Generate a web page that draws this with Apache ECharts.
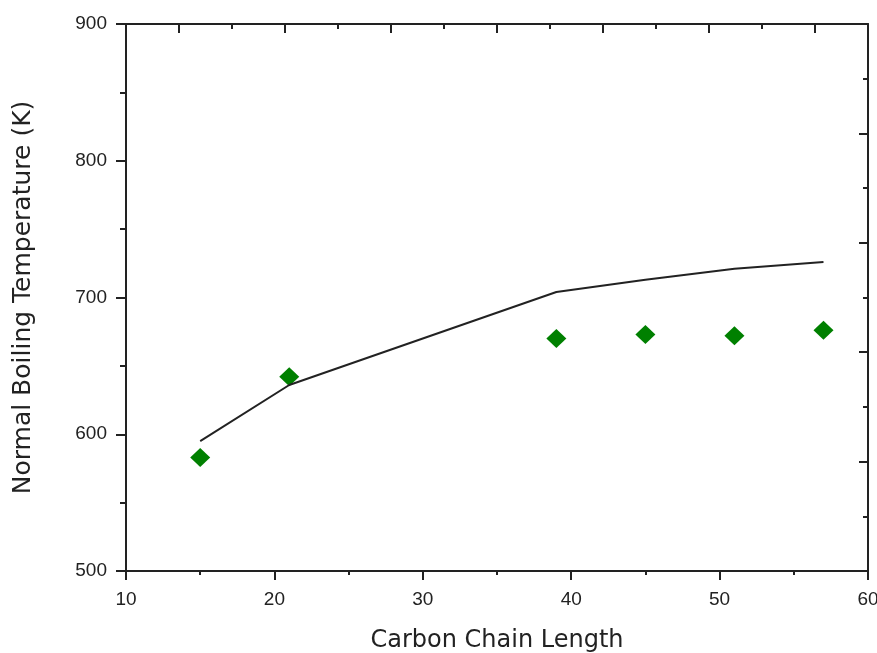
<!DOCTYPE html>
<html>
<head>
<meta charset="utf-8">
<script src="https://cdn.jsdelivr.net/npm/echarts@6/dist/echarts.min.js"></script>
<style>
  html, body { margin: 0; padding: 0; background: #fff; }
  #chart { width: 877px; height: 653px; }
</style>
</head>
<body>
<div id="chart"></div>
<script>
// Measured boiling points (green diamonds)
const measuredChain = [15, 21, 39, 45, 51, 57];
const measuredTemp = [583, 642, 670, 673, 672, 676];

// Model prediction (solid line)
const modelChain = [15, 21, 39, 45, 51, 57];
const modelTemp = [595, 636, 704, 713, 721, 726];

// Axis ranges and tick values
const xTicks = [10, 20, 30, 40, 50, 60];
const yTicks = [500, 600, 700, 800, 900];
const topMajorTicks = [1, 3, 5, 7, 9, 11, 13];

const axisColor = '#222';
const labelFont = { fontFamily: 'Liberation Sans, Arial, sans-serif', fontSize: 19, color: '#222' };

const chart = echarts.init(document.getElementById('chart'));
chart.setOption({
  animation: false,
  backgroundColor: '#fff',
  grid: { left: 126, top: 24, width: 742, height: 547, containLabel: false, outerBoundsMode: 'none' },
  xAxis: [
    {
      type: 'value', position: 'bottom',
      min: xTicks[0], max: xTicks[xTicks.length - 1], interval: 10,
      name: 'Carbon Chain Length', nameLocation: 'middle', nameGap: 58,
      nameTextStyle: { fontFamily: 'DejaVu Sans, sans-serif', fontSize: 24, color: '#222' },
      axisLine: { show: true, lineStyle: { color: axisColor, width: 2 } },
      axisTick: { show: true, inside: false, length: 9, lineStyle: { color: axisColor, width: 2 } },
      minorTick: { show: true, splitNumber: 2, length: 4, lineStyle: { color: axisColor, width: 2 } },
      axisLabel: Object.assign({ margin: 19 }, labelFont),
      splitLine: { show: false }
    },
    {
      type: 'value', position: 'top', min: 0, max: 14, interval: 1,
      axisLine: { show: true, onZero: false, lineStyle: { color: axisColor, width: 2 } },
      axisTick: { show: true, inside: true, length: 5, lineStyle: { color: axisColor, width: 2 } },
      axisLabel: { show: false }, splitLine: { show: false }
    },
    {
      type: 'value', position: 'top', min: 0, max: 14,
      axisLine: { show: false, onZero: false },
      axisTick: { show: true, inside: true, length: 9, customValues: topMajorTicks,
                  lineStyle: { color: axisColor, width: 2 } },
      axisLabel: { show: false }, splitLine: { show: false }
    }
  ],
  yAxis: [
    {
      type: 'value', position: 'left',
      min: yTicks[0], max: yTicks[yTicks.length - 1], interval: 100,
      name: 'Normal Boiling Temperature (K)', nameLocation: 'middle', nameGap: 90,
      nameTextStyle: { fontFamily: 'DejaVu Sans, sans-serif', fontSize: 25, color: '#222' },
      axisLine: { show: true, onZero: false, lineStyle: { color: axisColor, width: 2 } },
      axisTick: { show: true, inside: false, length: 10, lineStyle: { color: axisColor, width: 2 } },
      minorTick: { show: true, splitNumber: 2, length: 6, lineStyle: { color: axisColor, width: 2 } },
      axisLabel: Object.assign({ margin: 19 }, labelFont),
      splitLine: { show: false }
    },
    {
      type: 'value', position: 'right', min: 0, max: 10, interval: 2,
      axisLine: { show: true, onZero: false, lineStyle: { color: axisColor, width: 2 } },
      axisTick: { show: true, inside: true, length: 9, lineStyle: { color: axisColor, width: 2 } },
      minorTick: { show: true, splitNumber: 2, length: 5, lineStyle: { color: axisColor, width: 2 } },
      axisLabel: { show: false }, splitLine: { show: false }
    }
  ],
  series: [
    {
      type: 'line', xAxisIndex: 0, yAxisIndex: 0,
      data: modelChain.map((c, i) => [c, modelTemp[i]]),
      showSymbol: false, symbol: 'none',
      lineStyle: { color: '#222', width: 2 }
    },
    {
      type: 'scatter', xAxisIndex: 0, yAxisIndex: 0,
      data: measuredChain.map((c, i) => [c, measuredTemp[i]]),
      symbol: 'diamond', symbolSize: [20, 19],
      itemStyle: { color: '#008000', opacity: 1 }
    }
  ]
});
</script>
</body>
</html>
